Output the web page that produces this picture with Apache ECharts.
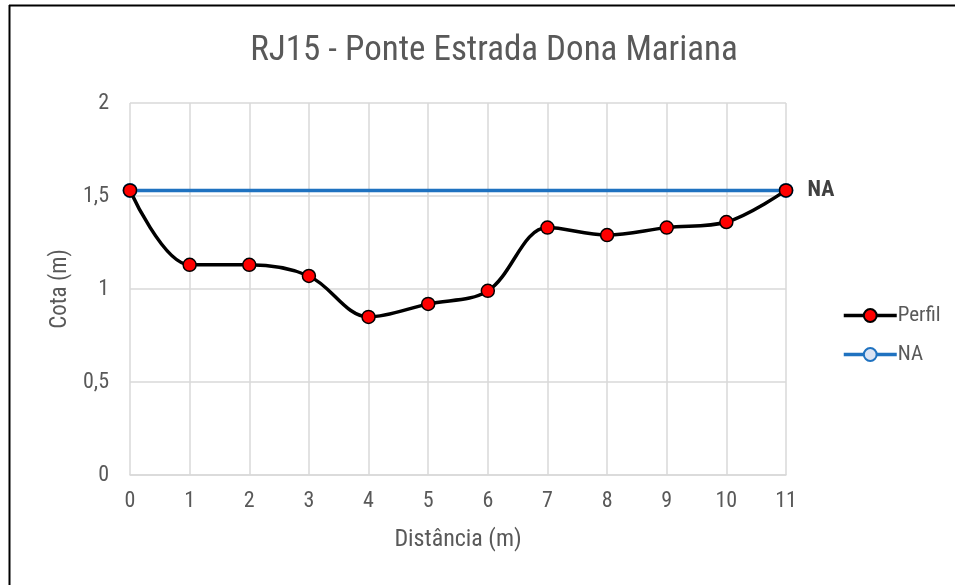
<!DOCTYPE html>
<html>
<head>
<meta charset="utf-8">
<script src="https://cdn.jsdelivr.net/npm/echarts@6/dist/echarts.min.js"></script>
<style>html,body{margin:0;padding:0;background:#fff}#c{width:955px;height:585px}</style>
</head>
<body>
<div id="c"></div>
<script>
var titleText = 'RJ15 - Ponte Estrada Dona Mariana';
var distances = [0, 1, 2, 3, 4, 5, 6, 7, 8, 9, 10, 11];
var perfil = [1.53, 1.13, 1.13, 1.07, 0.85, 0.92, 0.99, 1.33, 1.29, 1.33, 1.36, 1.53];
var naX = [0, 11];
var naValues = [1.53, 1.53];
var FONT = '"Liberation Sans Narrow", "Roboto Condensed", "Roboto", sans-serif';

var chart = echarts.init(document.getElementById('c'), null, {renderer: 'canvas'});
chart.setOption({
  backgroundColor: '#fff',
  animation: false,
  title: {
    text: titleText, left: 489, top: 29, textAlign: 'center',
    textStyle: {fontFamily: FONT, fontSize: 35, fontWeight: 'normal', color: '#595959'}
  },
  legend: {
    orient: 'vertical', left: 837, top: 300, itemWidth: 53, itemHeight: 16, itemGap: 18,
    lineStyle: {width: 3.5},
    textStyle: {fontFamily: FONT, fontSize: 21, color: '#595959', padding: [0, 0, 0, -4]},
    data: ['Perfil', 'NA']
  },
  grid: {left: 130, right: 169, top: 103, bottom: 110, containLabel: false},
  xAxis: {
    type: 'value', min: 0, max: 11, interval: 1,
    name: 'Distância (m)', nameLocation: 'middle', nameGap: 53,
    nameTextStyle: {fontFamily: FONT, fontSize: 24, color: '#595959'},
    axisLine: {show: true, lineStyle: {color: '#d9d9d9', width: 1.5}},
    axisTick: {show: false},
    axisLabel: {fontFamily: FONT, fontSize: 22, color: '#595959', margin: 15},
    splitLine: {show: true, lineStyle: {color: '#d9d9d9', width: 1.5}}
  },
  yAxis: {
    type: 'value', min: 0, max: 2, interval: 0.5,
    name: 'Cota (m)', nameLocation: 'middle', nameGap: 44,
    nameTextStyle: {fontFamily: FONT, fontSize: 23, color: '#595959'},
    axisLine: {show: false}, axisTick: {show: false},
    axisLabel: {fontFamily: FONT, fontSize: 22, color: '#595959', margin: 21,
      formatter: function (v) { return String(v).replace('.', ','); }},
    splitLine: {show: true, lineStyle: {color: '#d9d9d9', width: 1.5}}
  },
  series: [
    {
      name: 'Perfil', type: 'line', smooth: 0.35,
      data: distances.map(function (d, i) { return [d, perfil[i]]; }),
      symbol: 'circle', symbolSize: 13, z: 3,
      lineStyle: {color: '#000', width: 3.5},
      itemStyle: {color: '#ff0000', borderColor: '#000', borderWidth: 1.5}
    },
    {
      name: 'NA', type: 'line', z: 2,
      data: naX.map(function (d, i) { return [d, naValues[i]]; }),
      symbol: 'circle', symbolSize: 13,
      lineStyle: {color: '#1f72c0', width: 3.5},
      itemStyle: {color: '#dae3f3', borderColor: '#1f72c0', borderWidth: 2},
      label: {
        show: true, position: 'right', distance: 14,
        formatter: function (p) { return p.dataIndex === naX.length - 1 ? 'NA' : ''; },
        fontFamily: FONT, fontSize: 22, fontWeight: 'bold', color: '#404040'
      }
    }
  ],
  graphic: [
    {type: 'line', shape: {x1: 9, y1: 5.5, x2: 955, y2: 5.5}, style: {stroke: '#000', lineWidth: 2}},
    {type: 'line', shape: {x1: 9.5, y1: 5, x2: 9.5, y2: 585}, style: {stroke: '#000', lineWidth: 2}}
  ]
});
</script>
</body>
</html>
